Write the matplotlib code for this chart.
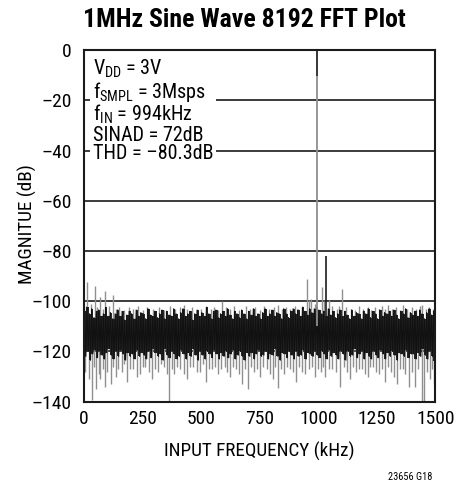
import numpy as np
import matplotlib.pyplot as plt

plt.rcParams['font.family'] = ['Liberation Sans Narrow', 'Roboto Condensed',
                               'Liberation Sans', 'DejaVu Sans']

# noise floor, 10 kHz bins (upper / lower edge of the dense trace, dB)
bin_khz = np.arange(5, 1500, 10)
core_top = [-104, -102.5, -105, -103, -106.5, -104, -103.5, -106, -105, -102.5,
            -106, -104.5, -107, -105, -103.5, -106, -104, -107.5, -105.5, -104,
            -105, -107, -103.5, -106, -104.5, -105, -107, -103, -105.5, -106,
            -104, -106.5, -105, -103.5, -107, -104, -105.5, -106, -103, -105,
            -107, -104.5, -103, -106, -105, -104, -107.5, -105, -103.5, -106,
            -104.5, -106, -102.5, -105, -107, -104, -103.5, -106.5, -105, -104,
            -106, -103, -105.5, -107, -104, -105, -106.5, -103.5, -105, -107,
            -104, -105.5, -103, -106, -105, -107, -104.5, -103, -106, -105,
            -103.5, -106, -104.5, -105, -107, -103, -105, -106.5, -104, -103,
            -105, -103.5, -106, -102.5, -104, -105.5, -103, -104.5, -103, -102.5,
            -103.5, -105, -104, -106, -103, -105.5, -104, -106.5, -105, -103.5,
            -106, -104, -105.5, -107, -103.5, -106, -104.5, -105, -107, -104,
            -105, -103, -106.5, -104, -105, -107, -103.5, -106, -104.5, -105,
            -104, -106, -103.5, -105.5, -107, -104, -105, -103, -106.5, -104.5,
            -105.5, -104, -106, -103.5, -105, -107, -104.5, -103, -105.5, -104]
core_bot = [-122, -120, -123.5, -121, -119.5, -122.5, -120, -121.5, -123, -120.5,
            -119, -121.5, -123, -120, -122, -119.5, -121, -123.5, -120.5, -122,
            -121, -123, -119.5, -122, -120.5, -121.5, -123, -120, -122.5, -119,
            -120.5, -122, -121, -123.5, -119, -121.5, -122.5, -120, -121, -123,
            -122, -119.5, -121, -123, -120.5, -122, -119, -121.5, -123.5, -120,
            -121.5, -123, -120, -121, -122.5, -119.5, -121, -123, -120.5, -122,
            -120, -122.5, -121, -119.5, -123, -121.5, -120, -122, -123.5, -120.5,
            -122, -120.5, -123, -121, -119.5, -122, -121.5, -120, -123, -121,
            -121.5, -119, -122, -123.5, -120.5, -121, -122.5, -120, -121.5, -123,
            -120, -122, -121.5, -119.5, -123, -120.5, -121, -122, -120, -121.5,
            -122.5, -120, -121, -123, -119.5, -122, -120.5, -121.5, -123, -120,
            -121, -123.5, -120, -122, -121.5, -119, -122.5, -121, -120, -123,
            -120.5, -122, -123, -120, -121.5, -122.5, -119.5, -121, -123, -120.5,
            -122, -120, -121.5, -123.5, -120.5, -121, -122, -119.5, -122.5, -121,
            -121, -123, -120.5, -122, -119, -121.5, -123, -120, -122, -124]

# isolated spikes above / below the floor (kHz, dB)
up_spikes = [(8, -102), (13, -92.5), (28, -101), (45, -94), (57, -102.5),
             (67, -98.5), (80, -103), (91, -96), (105, -102), (124, -97.5),
             (138, -103), (150, -102.5), (172, -103.5), (190, -102.5),
             (210, -103), (230, -102), (250, -103.5), (270, -102.5),
             (295, -103), (320, -102.5), (343, -103.5), (365, -102),
             (388, -103), (410, -102.5), (428, -101.5), (440, -103),
             (462, -102.5), (480, -103.5), (500, -103), (520, -102),
             (540, -103), (555, -102.5), (570, -103.5), (587, -100),
             (605, -102.5), (622, -103), (640, -102), (660, -103.5),
             (690, -102), (710, -103), (730, -102.5), (750, -103.5),
             (770, -102), (790, -103), (810, -102.5), (826, -101.5),
             (845, -103), (862, -102.5), (880, -103), (900, -102),
             (915, -103), (932, -102), (952, -91), (962, -99.5), (969, -99),
             (985, -101), (1015, -94.5), (1024, -100), (1044, -99.5),
             (1060, -102), (1078, -103), (1090, -102), (1102, -95),
             (1120, -102.5), (1140, -103), (1158, -103.5), (1175, -102),
             (1192, -103), (1210, -102.5), (1226, -103.5), (1240, -102.5),
             (1258, -103), (1270, -102), (1285, -103), (1297, -101.5),
             (1315, -103), (1330, -102.5), (1348, -103.5), (1361, -101.5),
             (1380, -103), (1400, -102.5), (1418, -103), (1432, -102),
             (1443, -101.5), (1458, -103), (1472, -102.5), (1490, -103)]
dn_spikes = [(6, -128), (20, -131), (34, -139.5), (42, -126), (50, -135),
             (62, -129), (70, -131), (82, -127), (91, -134), (100, -128),
             (113, -133), (124, -126), (135, -130), (147, -127), (160, -128),
             (172, -125), (185, -132), (197, -127), (210, -127), (225, -130),
             (240, -129), (252, -126), (262, -126), (276, -128), (290, -131),
             (302, -127), (315, -128), (328, -125), (340, -126), (352, -129),
             (362, -140), (374, -127), (385, -129), (398, -126), (410, -127),
             (425, -129), (440, -131), (452, -126), (465, -126), (480, -128),
             (495, -128), (508, -125), (520, -132), (532, -127), (545, -127),
             (558, -126), (570, -129), (585, -127), (600, -126), (612, -128),
             (625, -130), (637, -126), (650, -127), (662, -129), (675, -133),
             (688, -127), (700, -135), (712, -126), (725, -128), (738, -127),
             (750, -130), (765, -126), (780, -127), (792, -129), (805, -131),
             (816, -126), (827, -134.5), (842, -127), (855, -129), (868, -126),
             (880, -127), (893, -128), (905, -132), (918, -126), (930, -128),
             (945, -129), (960, -127), (972, -126), (985, -130), (998, -127),
             (1010, -128), (1020, -126), (1029, -130), (1045, -127),
             (1060, -127), (1075, -128), (1092, -134), (1110, -126),
             (1122, -128), (1135, -131), (1148, -126), (1160, -128),
             (1172, -127), (1185, -127), (1198, -129), (1210, -130),
             (1222, -126), (1235, -126), (1248, -128), (1260, -129),
             (1272, -127), (1285, -132), (1298, -126), (1310, -128),
             (1322, -130), (1335, -133), (1348, -127), (1360, -127),
             (1372, -129), (1385, -134), (1398, -128), (1413, -134),
             (1426, -127), (1441, -140), (1452, -140), (1465, -128),
             (1475, -131), (1485, -127), (1495, -133)]

# fundamental and 2nd harmonic
fund_khz, fund_db = 994, 0
harm_khz, harm_db = 1031, -82

x_ticks = [0, 250, 500, 750, 1000, 1250, 1500]
y_ticks = [-140, -120, -100, -80, -60, -40, -20, 0]

fig = plt.figure(figsize=(4.67, 4.86), dpi=100)
ax = fig.add_axes([0.18, 0.1735, 0.7525, 0.7235])

uf, ud = zip(*up_spikes)
df, dd = zip(*dn_spikes)
ax.vlines(uf, -110, ud, color='#8f8f8f', lw=1.0, zorder=2)
ax.vlines(df, -115, dd, color='#8f8f8f', lw=1.0, zorder=2)

# dense core of the trace
ax.fill_between(bin_khz, core_bot, core_top, step='mid', color='#262626',
                lw=0, zorder=3)
zx = np.column_stack([bin_khz - 2.5, bin_khz + 2.5]).ravel()
zy = np.column_stack([core_top, core_bot]).ravel()
ax.plot(zx, zy, color='#111111', lw=0.8, zorder=3)

ax.vlines(fund_khz, -110, fund_db, color='#8f8f8f', lw=1.3, zorder=4)
ax.vlines(fund_khz, -10.5, fund_db, color='#333333', lw=1.3, zorder=4)
ax.vlines(harm_khz, -108, harm_db, color='#1c1c1c', lw=1.2, zorder=4)

for y in y_ticks[1:-1]:
    ax.axhline(y, color='#1a1a1a', lw=1.2, zorder=1)

ax.set_xlim(0, 1500)
ax.set_ylim(-140, 0)
ax.set_xticks(x_ticks)
ax.set_yticks(y_ticks)
# long dash for negative numbers, like the original
ax.set_yticklabels([str(v).replace('-', '\u2013') for v in y_ticks])
ax.tick_params(length=0, labelsize=14)
ax.tick_params(axis='x', pad=6)
ax.tick_params(axis='y', pad=9)
for s in ax.spines.values():
    s.set_linewidth(1.5)
    s.set_color('#1a1a1a')
    s.set_zorder(6)

ax.set_xlabel('INPUT FREQUENCY (kHz)', fontsize=13.8)
ax.set_ylabel('MAGNITUE (dB)', fontsize=13.8, va='center')
ax.xaxis.set_label_coords(0.5, -0.115)
ax.yaxis.set_label_coords(-0.16, 0.505)

info = ('V$\\mathregular{_{DD}}$ = 3V\n'
        'f$\\mathregular{_{SMPL}}$ = 3Msps\n'
        'f$\\mathregular{_{IN}}$ = 994kHz\n'
        'SINAD = 72dB\n'
        'THD = \u201380.3dB')
ax.text(0.025, 0.978, info, transform=ax.transAxes, fontsize=14.5, va='top',
        ha='left', linespacing=0.97, zorder=5,
        bbox=dict(facecolor='white', edgecolor='none', pad=2))

fig.text(0.523, 0.958, '1MHz Sine Wave 8192 FFT Plot', fontsize=18.5,
         fontweight='bold', ha='center', va='center')
fig.text(0.925, 0.019, '23656 G18', fontsize=7.5, ha='right', va='center')

fig.savefig('out.png', dpi=100)
